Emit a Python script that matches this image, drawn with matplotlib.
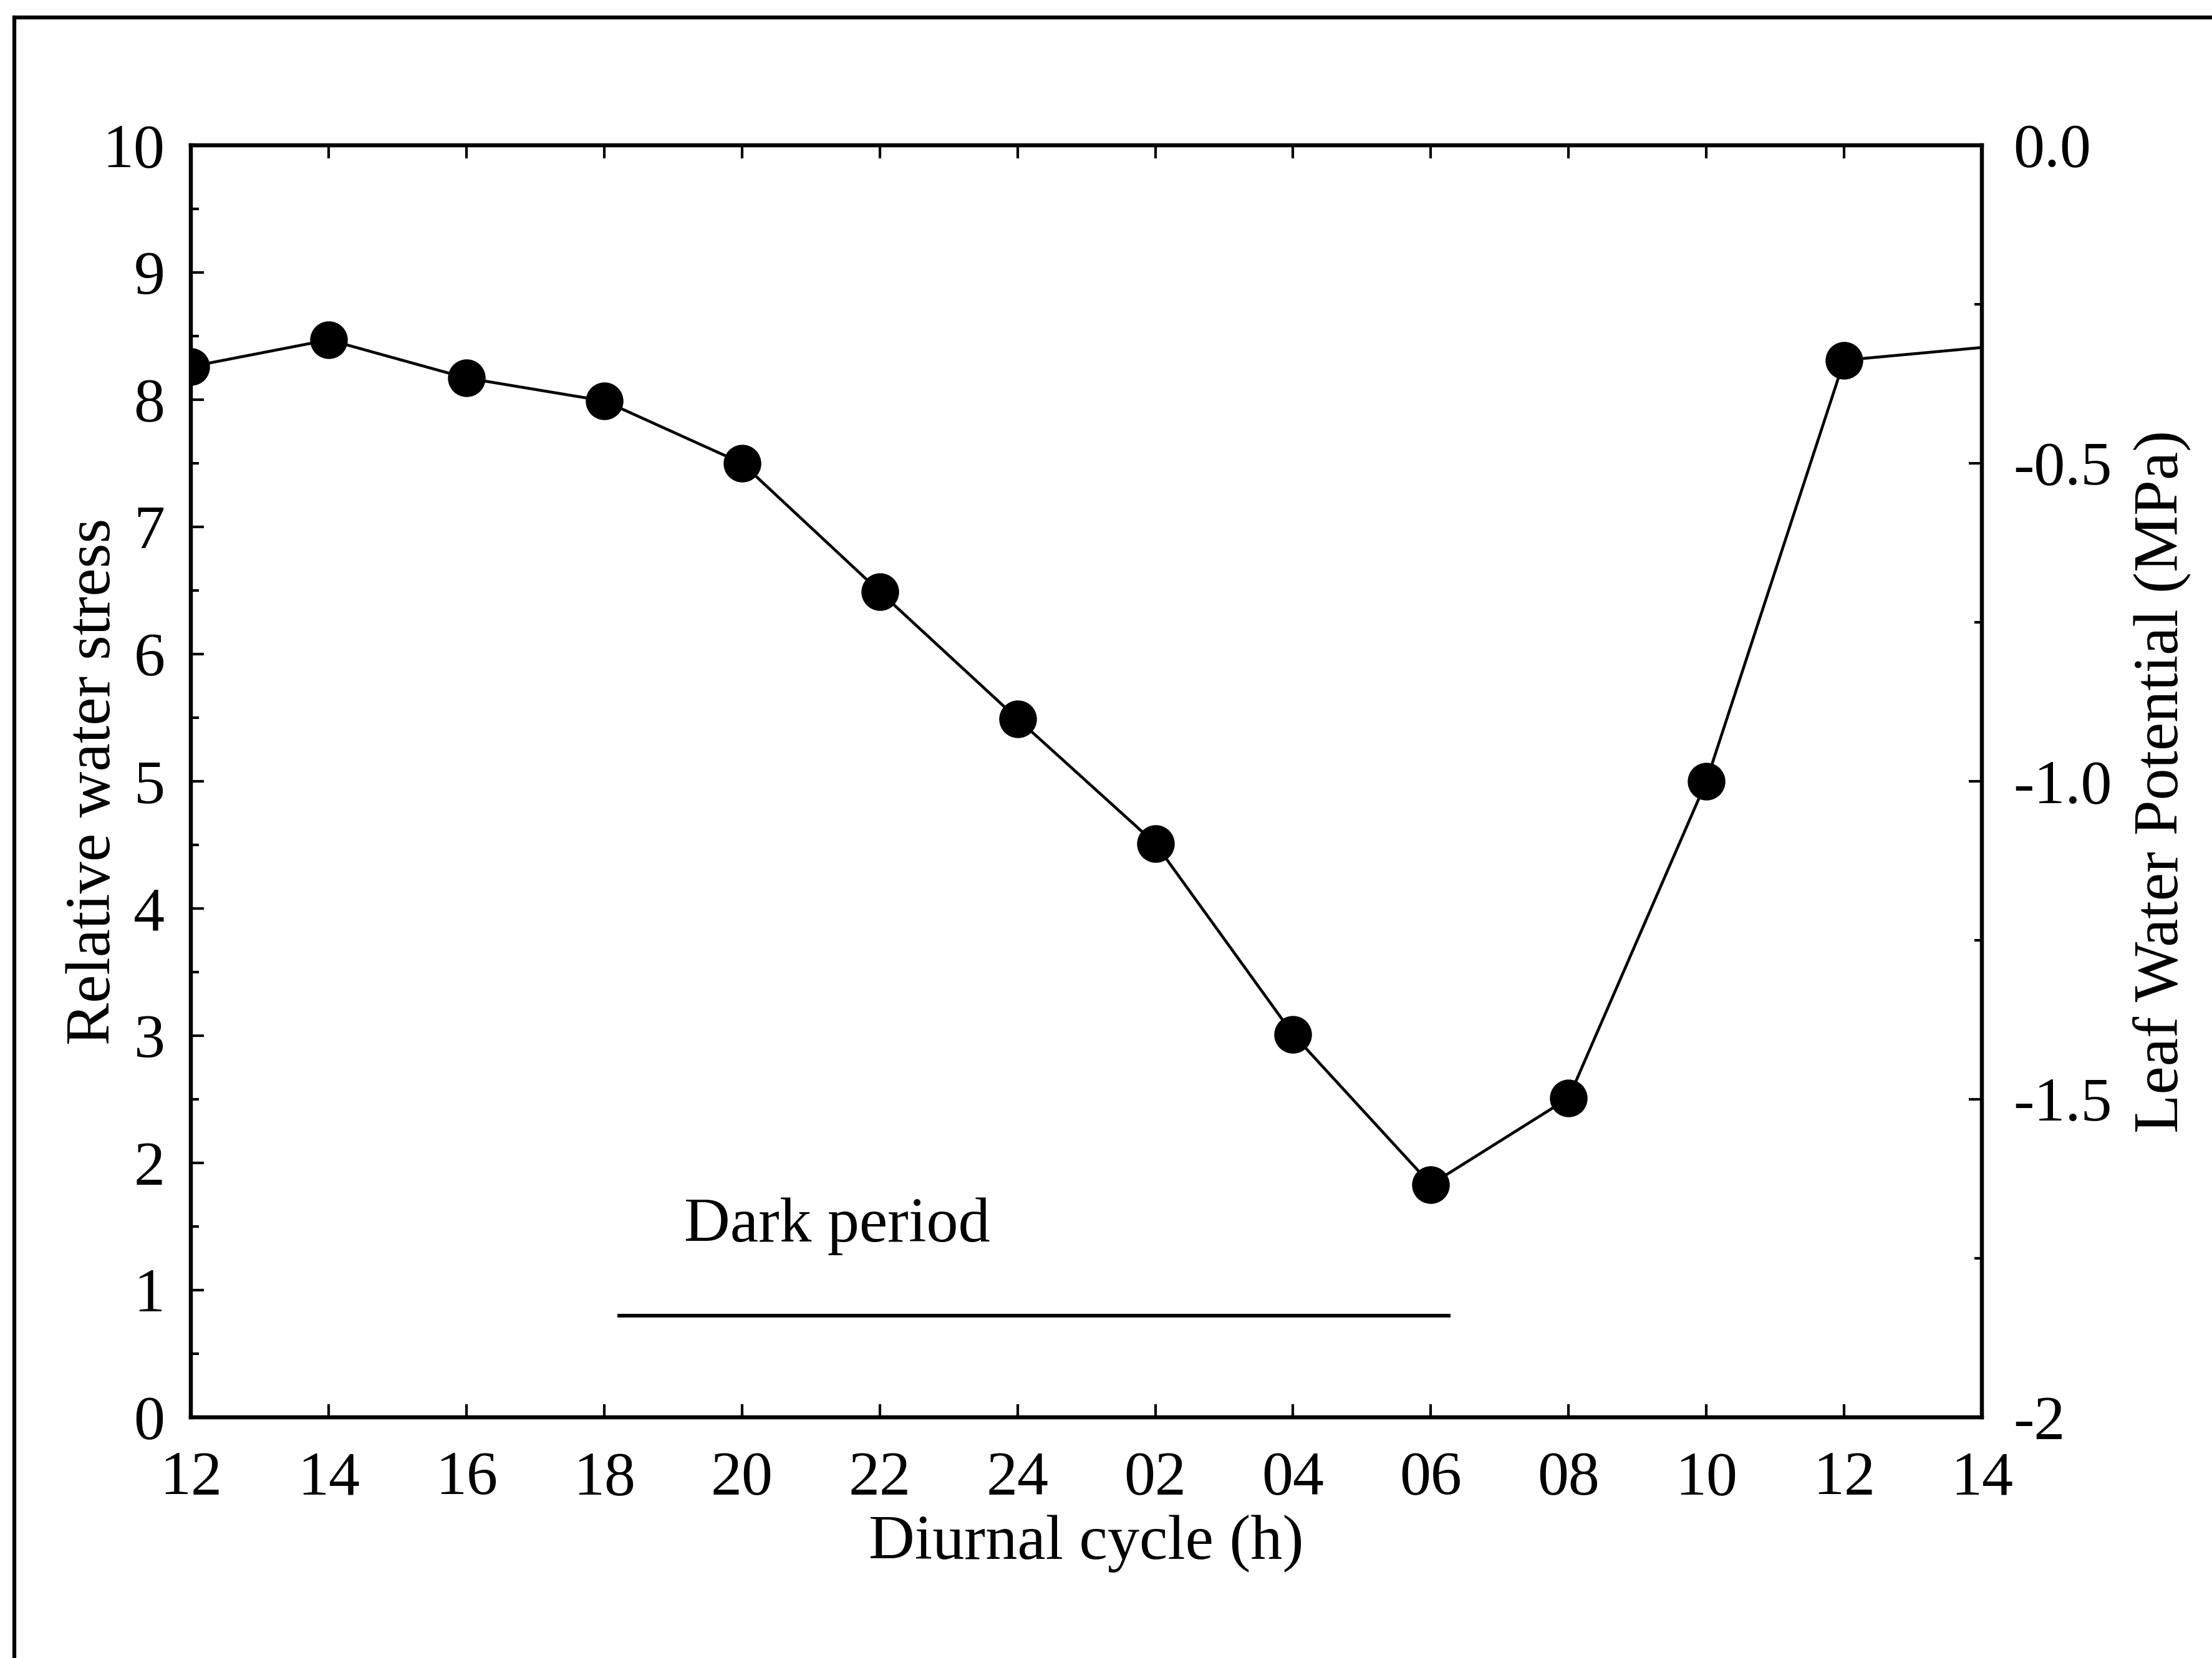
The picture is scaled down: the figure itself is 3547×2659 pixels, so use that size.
import matplotlib
matplotlib.use('Agg')
import matplotlib.pyplot as plt
from matplotlib.lines import Line2D
import numpy as np

plt.rcParams['font.family'] = ['Liberation Serif', 'DejaVu Serif']

hours = ['12', '14', '16', '18', '20', '22', '24', '02',
         '04', '06', '08', '10', '12', '14']
stress = [8.26, 8.47, 8.17, 7.99, 7.50, 6.49, 5.49, 4.51,
          3.01, 1.83, 2.51, 5.00, 8.31, 8.41]
n_marked = 13  # last value is only the line running to the axis edge

dark_start, dark_end = 3.11, 9.13  # in tick positions
dark_level = 0.80

psi_ticks = [0.0, -0.5, -1.0, -1.5, -2.0]
psi_labels = ['0.0', '-0.5', '-1.0', '-1.5', '-2']

x = np.arange(len(hours))

fig = plt.figure(figsize=(3547 / 300, 2659 / 300), dpi=300)
ax = fig.add_axes([0.0863, 0.1452, 0.8097, 0.7672])

ax.plot(x, stress, color='black', lw=1.1, marker='o', markersize=13.5,
        markevery=list(range(n_marked)))
ax.plot([dark_start, dark_end], [dark_level, dark_level], color='black', lw=1.4)
ax.text(3.58, 1.38, 'Dark period', fontsize=24.5, ha='left', va='baseline')

ax.set_xlim(0, 13)
ax.set_ylim(0, 10)
ax.set_xticks(x)
ax.set_xticklabels(hours)
ax.set_yticks(range(0, 11))
ax.set_yticks(np.arange(0.5, 10, 1), minor=True)
ax.tick_params(axis='both', which='major', direction='in', length=5, width=1.0,
               labelsize=24, top=True)
ax.tick_params(axis='y', which='minor', direction='in', length=3, width=1.0)
ax.tick_params(axis='x', which='major', pad=13)
ax.tick_params(axis='y', which='major', pad=10)
ax.set_xlabel('Diurnal cycle (h)', fontsize=24.5, labelpad=3)
ax.set_ylabel('Relative water stress', fontsize=24.5, labelpad=-8)

ax2 = ax.twinx()
ax2.set_ylim(-2, 0)
ax2.set_yticks(psi_ticks)
ax2.set_yticklabels(psi_labels)
ax2.set_yticks(np.arange(-1.75, 0, 0.5), minor=True)
ax2.tick_params(axis='y', which='major', direction='in', length=5, width=1.0,
                labelsize=24, pad=12)
ax2.tick_params(axis='y', which='minor', direction='in', length=3, width=1.0)
ax2.set_ylabel('Leaf Water Potential (MPa)', fontsize=24.5, labelpad=8)

for a in (ax, ax2):
    for s in a.spines.values():
        s.set_linewidth(1.5)

# scanned figure frame: left and top edges only
fig.add_artist(Line2D([0.0065, 0.0065], [0.0, 0.9895], transform=fig.transFigure,
                      color='black', lw=1.5))
fig.add_artist(Line2D([0.0065, 1.0], [0.9895, 0.9895], transform=fig.transFigure,
                      color='black', lw=1.5))

plt.savefig('out.png', dpi=300)
